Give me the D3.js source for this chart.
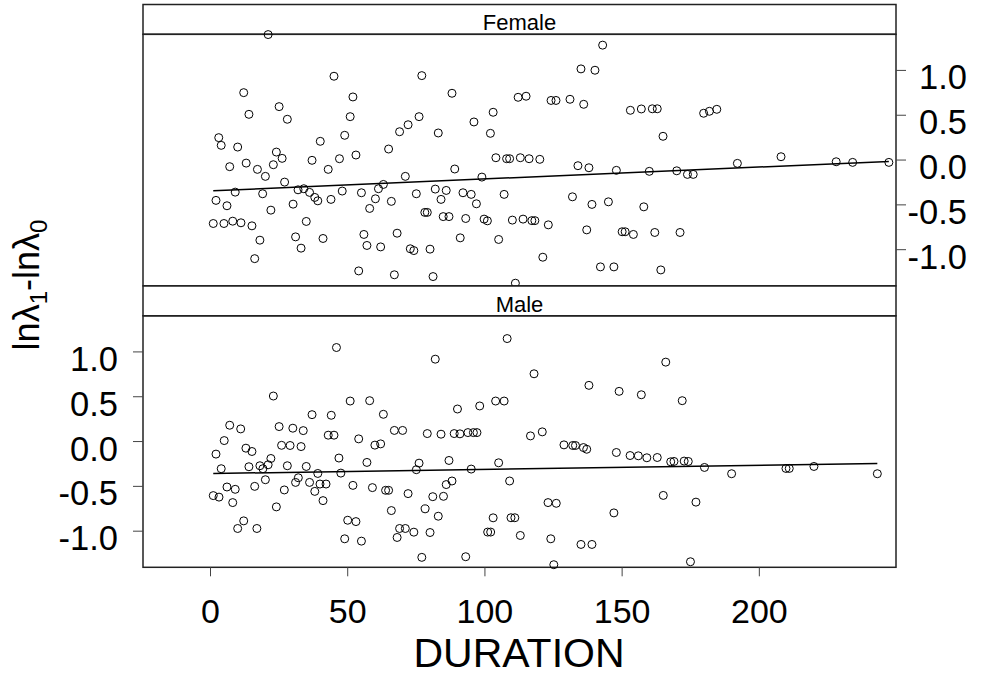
<!DOCTYPE html>
<html>
<head>
<meta charset="utf-8">
<script src="https://cdn.jsdelivr.net/npm/d3@7"></script>
<style>
  body { margin: 0; background: #fff; }
  text { font-family: "Liberation Sans", Arial, sans-serif; fill: #000; }
</style>
</head>
<body>
<svg id="chart" width="997" height="676"></svg>
<script>
// values
const panels = ["Female", "Male"];

const femaleDuration = [21, 45, 12.1, 25, 14, 28, 3, 3.9, 9.9, 40, 24, 26.1, 37, 47, 7, 13, 17.1, 22.9, 20, 42.9,
  27, 9, 19, 31.9, 34, 36.1, 38, 39.1, 43.9, 48, 2, 6, 22, 30.1, 1, 4.9, 8.1, 11.1, 15.1, 34.9,
  18, 31, 41, 33, 16.1,
  77, 51.9, 88, 50.9, 76, 72, 68.9, 48.9, 83, 96, 103, 102, 112.1, 115, 64.9, 53, 89, 71, 98.9, 104,
  107.9, 109, 112.9, 63, 61.2, 55, 60.1, 58, 65.9, 75, 81.9, 85.9, 84, 92, 95, 96.9, 107, 78.1, 79, 84.8,
  86.9, 93, 99.7, 100.9, 110, 113.9, 55.9, 57, 62, 68, 72.8, 74.1, 80, 91, 105, 54, 67, 81.1, 111.1,
  142.9, 135, 140.1, 124.1, 125.9, 131, 136, 153, 157, 161, 162.8, 179.7, 181.8, 184.5, 164.9, 116.1, 120,
  133.9, 137.9, 147.9, 159.9, 169.9, 173.8, 175.9, 131.9, 139, 145, 157.9, 117.1, 118.2, 123.1, 137.1,
  150, 151.1, 154.1, 161.9, 171.1, 121.1, 142.1, 147, 164.1,
  192, 207.9, 228, 234, 247.2];
const femaleValue = [1.40, 0.935, 0.752, 0.596, 0.51, 0.455, 0.25, 0.164, 0.145, 0.209, 0.089, 0.019, -0.003, 0.015, -0.074, -0.034, -0.104, -0.052, -0.182, -0.104,
  -0.246, -0.358, -0.376, -0.332, -0.32, -0.361, -0.417, -0.455, -0.439, -0.346, -0.45, -0.51, -0.559, -0.492, -0.708, -0.708, -0.682, -0.70, -0.734, -0.685,
  -0.894, -0.857, -0.875, -0.983, -1.10,
  0.942, 0.704, 0.745, 0.484, 0.484, 0.394, 0.316, 0.276, 0.302, 0.425, 0.533, 0.298, 0.70, 0.712, 0.123, 0.056, -0.10, -0.182, -0.19, 0.026,
  0.015, 0.015, 0.026, -0.272, -0.32, -0.365, -0.432, -0.54, -0.461, -0.376, -0.324, -0.339, -0.439, -0.365, -0.383, -0.488, -0.383, -0.584, -0.584, -0.631,
  -0.631, -0.652, -0.659, -0.678, -0.67, -0.659, -0.83, -0.953, -0.969, -0.816, -0.99, -1.01, -0.994, -0.868, -0.886, -1.237, -1.28, -1.30, -1.374,
  1.282, 1.017, 1.002, 0.665, 0.665, 0.678, 0.622, 0.555, 0.57, 0.572, 0.572, 0.522, 0.544, 0.566, 0.265, 0.015, 0.008,
  -0.063, -0.086, -0.115, -0.126, -0.12, -0.16, -0.16, -0.41, -0.495, -0.466, -0.522, -0.676, -0.676, -0.723, -0.779,
  -0.80, -0.80, -0.83, -0.808, -0.808, -1.084, -1.192, -1.192, -1.226,
  -0.037, 0.037, -0.019, -0.026, -0.026];

const maleDuration = [45.9, 22.9, 37, 44, 7, 11, 25, 30, 33.8, 5, 42.9, 45, 2, 12.9, 15.1, 25.9, 29, 33, 22, 3.9,
  14, 18, 19.1, 21, 28, 34.9, 46.8, 39.1, 32, 31, 36.1, 39.9, 42.1, 47.5, 20, 16.1, 6, 9, 1, 3.1,
  8.1, 26.9, 38, 41, 24, 12.1, 9.9, 16.9,
  81.9, 108.1, 50.9, 58, 63, 90, 98.1, 103.9, 107, 54, 59.9, 62, 67, 70, 79, 84, 88.8, 90.9, 93.8, 95.8,
  97.1, 116.6, 57, 76, 75, 86.9, 95, 105, 51.9, 59, 63.8, 64.9, 72, 81, 84.9, 85.9, 88, 109, 65.9, 78.2,
  83, 103, 109.5, 110.9, 50, 53, 48.9, 55, 68.9, 71, 68, 74.1, 80, 101, 102.1, 112.9, 77, 93,
  165.9, 117.9, 137.9, 148.9, 157, 171.9, 120.9, 128.8, 132, 133, 135.9, 137.1, 147.9, 152.9, 155.9, 159, 162.8,
  167.7, 168.9, 172.6, 174.1, 180, 123, 126, 147, 165, 176.9, 124, 135, 139, 125.1, 174.9,
  189.9, 209.7, 210.9, 219.9, 243];
const maleValue = [1.049, 0.508, 0.30, 0.293, 0.182, 0.141, 0.167, 0.149, 0.122, 0.011, 0.071, 0.071, -0.14, -0.074, -0.111, -0.042, -0.044, -0.056, -0.189, -0.303,
  -0.281, -0.27, -0.303, -0.259, -0.27, -0.278, -0.184, -0.356, -0.404, -0.456, -0.456, -0.474, -0.474, -0.352, -0.426, -0.50, -0.507, -0.533, -0.603, -0.62,
  -0.681, -0.54, -0.556, -0.659, -0.729, -0.885, -0.97, -0.97,
  0.919, 1.149, 0.452, 0.456, 0.304, 0.363, 0.397, 0.452, 0.452, 0.03, -0.04, -0.026, 0.124, 0.124, 0.089, 0.082, 0.089, 0.086, 0.10, 0.10,
  0.10, 0.063, -0.233, -0.241, -0.314, -0.211, -0.307, -0.237, -0.489, -0.514, -0.544, -0.544, -0.581, -0.615, -0.611, -0.48, -0.44, -0.44, -0.77, -0.751,
  -0.833, -0.851, -0.85, -0.85, -0.878, -0.893, -1.085, -1.111, -0.97, -0.97, -1.07, -1.011, -1.015, -1.01, -1.01, -1.048, -1.292, -1.285,
  0.886, 0.756, 0.627, 0.56, 0.522, 0.456, 0.108, -0.037, -0.044, -0.044, -0.067, -0.086, -0.122, -0.156, -0.159, -0.181, -0.178,
  -0.226, -0.222, -0.218, -0.222, -0.289, -0.681, -0.689, -0.796, -0.601, -0.676, -1.085, -1.148, -1.148, -1.374, -1.341,
  -0.359, -0.30, -0.30, -0.278, -0.359];

// fitted line (intercept, slope) for each panel
const femaleFit = [-0.344, 0.00133];
const maleFit = [-0.357, 0.00046];

const xTicks = [0, 50, 100, 150, 200];
const yTicks = [-1.0, -0.5, 0.0, 0.5, 1.0];

const svg = d3.select("#chart");
const left = 143, right = 896;
const stripH = 29.8;
const femaleTop = 4.5, maleTop = 286;
const panelH = 251.5;
const ink = "#222";

const x = d3.scaleLinear().domain([-24.6, 249.8]).range([left, right]);

const series = [
  {name: panels[0], dur: femaleDuration, val: femaleValue, fit: femaleFit, top: femaleTop, side: "right"},
  {name: panels[1], dur: maleDuration, val: maleValue, fit: maleFit, top: maleTop, side: "left"}
];

series.forEach(s => {
  const pTop = s.top + stripH;
  const y = d3.scaleLinear().domain([-1.403, 1.403]).range([pTop + panelH, pTop]);
  const g = svg.append("g");

  // strip
  g.append("rect")
    .attr("x", left).attr("y", s.top)
    .attr("width", right - left).attr("height", stripH)
    .attr("fill", "#fff").attr("stroke", ink).attr("stroke-width", 1.5);
  g.append("text")
    .attr("x", (left + right) / 2).attr("y", s.top + stripH - 4)
    .attr("text-anchor", "middle")
    .style("font-size", "22px")
    .text(s.name);

  // panel box
  g.append("rect")
    .attr("x", left).attr("y", pTop)
    .attr("width", right - left).attr("height", panelH)
    .attr("fill", "none").attr("stroke", ink).attr("stroke-width", 1.5);

  // y axis ticks + labels
  const tx = s.side === "right" ? right : left;
  const dir = s.side === "right" ? 1 : -1;
  g.selectAll(".ytick")
    .data(yTicks)
    .enter()
    .append("line")
    .attr("x1", tx).attr("x2", tx + dir * 10)
    .attr("y1", d => y(d)).attr("y2", d => y(d))
    .attr("stroke", "#444");
  g.selectAll(".ylab")
    .data(yTicks)
    .enter()
    .append("text")
    .attr("x", s.side === "right" ? 967 : 118)
    .attr("y", d => y(d) + 19)
    .attr("text-anchor", "end")
    .style("font-size", "34.5px")
    .text(d => d3.format(".1f")(d).replace("−", "-"));

  // points
  const pts = d3.zip(s.dur, s.val);
  g.selectAll("circle")
    .data(pts)
    .enter()
    .append("circle")
    .attr("cx", d => x(d[0]))
    .attr("cy", d => y(d[1]))
    .attr("r", 4)
    .attr("fill", "none")
    .attr("stroke", "#000")
    .attr("stroke-width", 1);

  // regression line over the data range
  const ext = d3.extent(s.dur);
  g.append("line")
    .attr("x1", x(ext[0])).attr("x2", x(ext[1]))
    .attr("y1", y(s.fit[0] + s.fit[1] * ext[0]))
    .attr("y2", y(s.fit[0] + s.fit[1] * ext[1]))
    .attr("stroke", "#000").attr("stroke-width", 1.5);

  // x ticks below the bottom panel only
  if (s.side === "left") {
    const yb = pTop + panelH;
    g.selectAll(".xtick")
      .data(xTicks)
      .enter()
      .append("line")
      .attr("x1", d => x(d)).attr("x2", d => x(d))
      .attr("y1", yb).attr("y2", yb + 9)
      .attr("stroke", "#444");
    g.selectAll(".xlab")
      .data(xTicks)
      .enter()
      .append("text")
      .attr("x", d => x(d)).attr("y", 623)
      .attr("text-anchor", "middle")
      .style("font-size", "34px")
      .text(d => d);
  }
});

// axis titles
svg.append("text")
  .attr("x", 519).attr("y", 667)
  .attr("text-anchor", "middle")
  .style("font-size", "41px")
  .text("DURATION");

const ylab = svg.append("text")
  .attr("transform", "translate(39,285) rotate(-90)")
  .attr("text-anchor", "middle")
  .style("font-size", "36px");
ylab.append("tspan").text("ln\u03bb");
ylab.append("tspan").attr("dy", 8).style("font-size", "24px").text("1");
ylab.append("tspan").attr("dy", -8).text("-ln\u03bb");
ylab.append("tspan").attr("dy", 8).style("font-size", "24px").text("0");
</script>
</body>
</html>
